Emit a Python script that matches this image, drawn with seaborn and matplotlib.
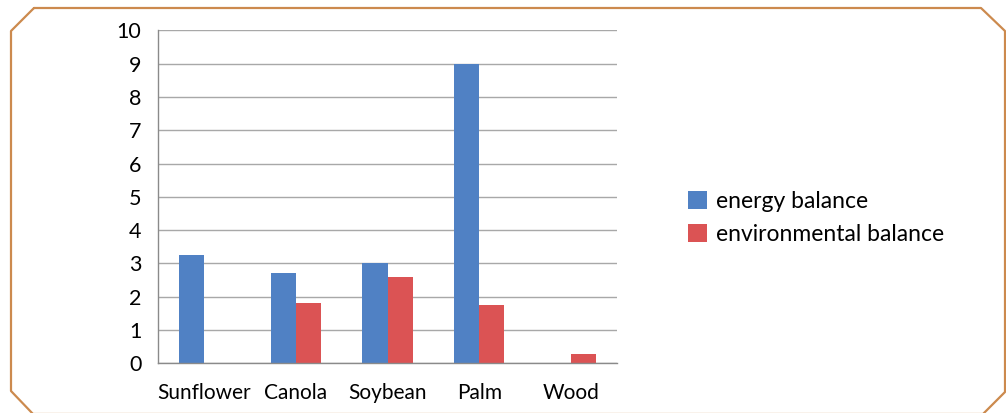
import pandas as pd
import matplotlib
matplotlib.use("Agg")
import matplotlib.pyplot as plt
import seaborn as sns
from matplotlib.lines import Line2D
from matplotlib.patches import Patch

# data
crops = ["Sunflower", "Canola", "Soybean", "Palm", "Wood"]
energy_balance = [3.25, 2.7, 3.0, 9.0, 0.0]
environmental_balance = [0.0, 1.8, 2.6, 1.75, 0.28]
series_names = ["energy balance", "environmental balance"]
colors = ["#5081c4", "#db5354"]

df = pd.DataFrame({
    "crop": crops * 2,
    "value": energy_balance + environmental_balance,
    "series": [series_names[0]] * len(crops) + [series_names[1]] * len(crops),
})

sns.set_style("white")
plt.rcParams['font.family'] = ['Lato', 'DejaVu Sans']
plt.rcParams['text.color'] = 'black'

W, H = 1006, 413
fig = plt.figure(figsize=(W / 100, H / 100), dpi=100)
ax = fig.add_axes([158 / W, 1 - 363.3 / H, (617 - 158) / W, (363.3 - 30.3) / H])

sns.barplot(data=df, x="crop", y="value", hue="series", palette=colors,
            width=0.545, linewidth=0, saturation=1, ax=ax, legend=False)

ax.set_ylim(0, 10)
ax.set_xlim(-0.5, len(crops) - 0.5)
ax.set_yticks(range(0, 11))
ax.set_xlabel("")
ax.set_ylabel("")
ax.yaxis.grid(True, color="#a8a8a8", linewidth=1)
ax.set_axisbelow(True)
for side in ["top", "right"]:
    ax.spines[side].set_visible(False)
for side in ["left", "bottom"]:
    ax.spines[side].set_color("#8a8a8a")
    ax.spines[side].set_linewidth(1)

ax.tick_params(axis="y", length=8, color="#8a8a8a", labelsize=15.5, pad=4, labelcolor="black")
ax.tick_params(axis="x", which="major", length=0, labelsize=15, pad=14, labelcolor="black")
ax.set_xticks([i - 0.5 for i in range(len(crops) + 1)], minor=True)
ax.tick_params(axis="x", which="minor", length=5, color="#8a8a8a")

handles = [Patch(facecolor=c, edgecolor="none") for c in colors]
fig.legend(handles, series_names, loc="upper left",
           bbox_to_anchor=(688 / W, 1 - 191 / H), frameon=False,
           fontsize=16.5, handlelength=0.85, handleheight=0.85,
           handletextpad=0.35, labelspacing=0.5, borderpad=0, borderaxespad=0)

# orange frame with clipped corners
px = [34, 981, 1005, 1005, 983, 33, 11, 11, 34]
py = [8, 8, 31, 392, 414, 414, 391, 31, 8]
frame = Line2D([x / W for x in px], [1 - y / H for y in py],
               transform=fig.transFigure, color="#cc8a4e", linewidth=1.6,
               clip_on=False)
fig.add_artist(frame)

fig.savefig("out.png", dpi=100)
